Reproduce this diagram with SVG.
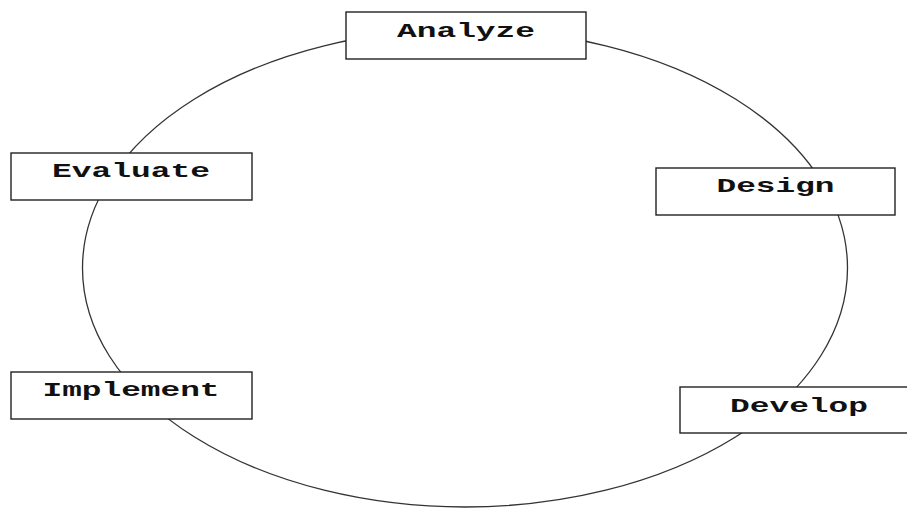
<svg xmlns="http://www.w3.org/2000/svg" width="907" height="510" viewBox="0 0 907 510">
<style>
.box{fill:#fff;stroke:#222;stroke-width:1.4}
.lbl{font-family:"Liberation Mono","Courier New",monospace;font-weight:bold;font-size:21px;fill:#111;text-anchor:middle}
.ring{fill:none;stroke:#333;stroke-width:1.3}
</style>
<rect width="907" height="510" fill="#fff"/>
<g id="connectors">
<ellipse class="ring" cx="465" cy="268" rx="382.5" ry="239"/>
</g>
<g id="analyze">
<rect class="box" x="346" y="12" width="240" height="47"/>
<text class="lbl" x="466" y="37" textLength="138" lengthAdjust="spacingAndGlyphs">Analyze</text>
</g>
<g id="design">
<rect class="box" x="656" y="168" width="239" height="47"/>
<text class="lbl" x="775.5" y="192" textLength="118" lengthAdjust="spacingAndGlyphs">Design</text>
</g>
<g id="develop">
<rect class="box" x="680" y="387" width="238" height="46"/>
<text class="lbl" x="799" y="412" textLength="138" lengthAdjust="spacingAndGlyphs">Develop</text>
</g>
<g id="implement">
<rect class="box" x="11" y="372" width="241" height="47"/>
<text class="lbl" x="131" y="396" textLength="177" lengthAdjust="spacingAndGlyphs">Implement</text>
</g>
<g id="evaluate">
<rect class="box" x="11" y="153" width="241" height="47"/>
<text class="lbl" x="131" y="177" textLength="158" lengthAdjust="spacingAndGlyphs">Evaluate</text>
</g>
</svg>
